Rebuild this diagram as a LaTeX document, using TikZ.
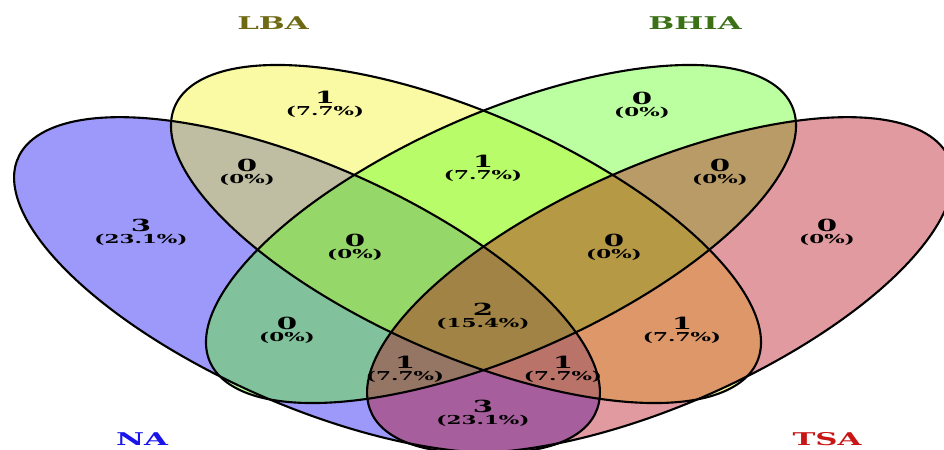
\documentclass[tikz,border=0pt]{standalone}
\usepackage{fontspec}
\setmainfont{DejaVu Serif}
\usepackage{graphicx}

\definecolor{naFill}{RGB}{10,0,242}
\definecolor{lbaFill}{RGB}{242,242,30}
\definecolor{bhiaFill}{RGB}{87,255,17}
\definecolor{tsaFill}{RGB}{180,5,17}
\definecolor{naText}{RGB}{25,20,235}
\definecolor{lbaText}{RGB}{110,106,20}
\definecolor{bhiaText}{RGB}{60,112,22}
\definecolor{tsaText}{RGB}{200,22,22}

% text in the picture is stretched sideways
\newcommand{\wide}[1]{\scalebox{1.75}[1]{#1}}

\begin{document}
\begin{tikzpicture}[x=0.02cm, y=-0.02cm,
  cnt/.style={font=\fontsize{9.5}{10}\selectfont\bfseries, inner sep=0pt},
  pct/.style={font=\fontsize{7}{8}\selectfont\bfseries, inner sep=0pt},
  setname/.style={font=\fontsize{10}{12}\selectfont\bfseries, inner sep=0pt}]
  \useasboundingbox (0,0) rectangle (944,450);
  \clip (0,0) rectangle (944,450);
  % fills: colour / centre / tilt / half axes
  \foreach \c/\x/\y/\r/\a/\b in {naFill/307/285/-45/7.5/3.52, lbaFill/466/234/-45/7.554/3.544,
                                 bhiaFill/501/234/45/7.554/3.544, tsaFill/660/285/45/7.5/3.52} {
    \begin{scope}[shift={(\x,\y)}, yscale=0.573]
      \fill[\c, fill opacity=0.4, rotate=\r] (0,0) ellipse [x radius=\a cm, y radius=\b cm];
    \end{scope}
  }
  % outlines on top
  \foreach \x/\y/\r/\a/\b in {307/285/-45/7.5/3.52, 466/234/-45/7.554/3.544,
                              501/234/45/7.554/3.544, 660/285/45/7.5/3.52} {
    \begin{scope}[shift={(\x,\y)}, yscale=0.573]
      \draw[line width=1.2pt, rotate=\r] (0,0) ellipse [x radius=\a cm, y radius=\b cm];
    \end{scope}
  }
  % set names
  \node[setname, text=lbaText] (lba) at (273,23) {\wide{LBA}};
  \node[setname, text=bhiaText] (bhia) at (695,23) {\wide{BHIA}};
  \node[setname, text=naText] (na) at (142,439) {\wide{NA}};
  \node[setname, text=tsaText] (tsa) at (827,439) {\wide{TSA}};
  % region counts and shares
  \foreach \n/\x/\y/\c/\p in {na/141/225/3/23.1, lba/325/97/1/7.7, bhia/642/98/0/0, tsa/827/225/0/0,
                              nalba/247/165/0/0, bhiatsa/720/165/0/0, lbabhia/483/161/1/7.7,
                              nalbabhia/355/240/0/0, lbabhiatsa/614/240/0/0, nabhia/287/323/0/0,
                              lbatsa/682/323/1/7.7, all/483/309/2/15.4, nabhiatsa/405/362/1/7.7,
                              nalbatsa/563/362/1/7.7, natsa/483/406/3/23.1} {
    \node[cnt] (c-\n) at (\x,\y) {\wide{\c}};
    \node[pct] (p-\n) at (\x,\y+15) {\wide{(\p\%)}};
  }
\end{tikzpicture}
\end{document}
